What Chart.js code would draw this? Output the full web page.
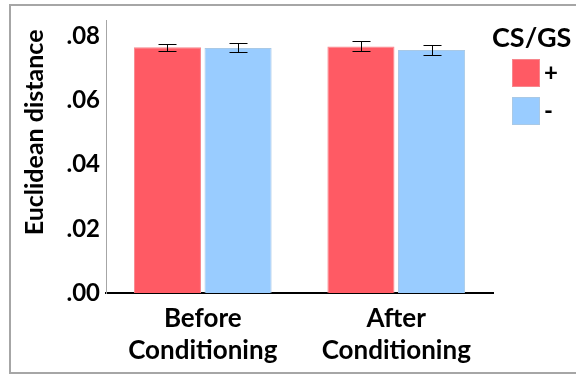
<!DOCTYPE html>
<html>
<head>
<meta charset="utf-8">
<script src="https://cdn.jsdelivr.net/npm/chart.js@4.4.1/dist/chart.umd.min.js"></script>
<style>
  html, body { margin: 0; padding: 0; background: #fff; }
  #wrap { position: relative; width: 576px; height: 376px; overflow: hidden; }
  #frame { position: absolute; left: 9px; top: 4px; width: 620px; height: 366px; border: 2px solid #a6a6a6; pointer-events: none; }
  canvas { position: absolute; left: 0; top: 0; }
</style>
</head>
<body>
<div id="wrap">
  <canvas id="chart" width="576" height="376"></canvas>
  <div id="frame"></div>
</div>
<script>
const conditions = [['Before', 'Conditioning'], ['After', 'Conditioning']];
const groupLabels = ['+', '-'];
const legendTitle = 'CS/GS';
const plusMeans = [0.0766, 0.0769];
const plusErrors = [0.00116, 0.00156];
const minusMeans = [0.0764, 0.0758];
const minusErrors = [0.0014, 0.00165];
const yTicks = [0, 0.02, 0.04, 0.06, 0.08];

const FONT = 'Lato, "Open Sans", sans-serif';
const NB = '\u00A0';

// error bars drawn on top of the bars, positioned through the y scale
const errorBars = {
    id: 'errorBars',
    afterDatasetsDraw(chart) {
        const ctx = chart.ctx;
        const yScale = chart.scales.y;
        ctx.save();
        ctx.strokeStyle = '#000';
        ctx.lineWidth = 1;
        chart.data.datasets.forEach((ds, i) => {
            const meta = chart.getDatasetMeta(i);
            meta.data.forEach((bar, j) => {
                const v = ds.data[j];
                const e = ds.errors[j];
                const yHi = Math.round(yScale.getPixelForValue(v + e)) + 0.5;
                const yLo = Math.round(yScale.getPixelForValue(v - e)) + 0.5;
                const x = Math.round(bar.x) + 0.5;
                const cap = 9;
                ctx.beginPath();
                ctx.moveTo(x, yHi); ctx.lineTo(x, yLo);
                ctx.moveTo(x - cap, yHi); ctx.lineTo(x + cap, yHi);
                ctx.moveTo(x - cap, yLo); ctx.lineTo(x + cap, yLo);
                ctx.stroke();
            });
        });
        ctx.restore();
    }
};

// legend in the right margin: title, then one swatch per dataset
const sideLegend = {
    id: 'sideLegend',
    afterDraw(chart) {
        const ctx = chart.ctx;
        const left = chart.chartArea.right - 1;
        ctx.save();
        ctx.fillStyle = '#000';
        ctx.textBaseline = 'middle';
        ctx.textAlign = 'left';
        ctx.font = 'bold 27px ' + FONT;
        ctx.fillText(legendTitle, left, 38);
        ctx.font = 'bold 24px ' + FONT;
        chart.data.datasets.forEach((ds, i) => {
            const top = 59 + i * 38;
            ctx.fillStyle = ds.backgroundColor;
            ctx.fillRect(left + 20, top, 28, 28);
            ctx.strokeStyle = ds.borderColor;
            ctx.lineWidth = 1;
            ctx.strokeRect(left + 20.5, top + 0.5, 27, 27);
            ctx.fillStyle = '#000';
            ctx.fillText(ds.label, left + 52, top + 14);
        });
        ctx.restore();
    }
};

const ctx = document.getElementById('chart').getContext('2d');
new Chart(ctx, {
    type: 'bar',
    data: {
        labels: conditions,
        datasets: [{
            label: groupLabels[0],
            data: plusMeans,
            errors: plusErrors,
            backgroundColor: '#FF5A64',
            borderColor: '#F7868C',
            borderWidth: 1
        }, {
            label: groupLabels[1],
            data: minusMeans,
            errors: minusErrors,
            backgroundColor: '#99CCFF',
            borderColor: '#A9C9E6',
            borderWidth: 1
        }]
    },
    options: {
        responsive: false,
        animation: false,
        categoryPercentage: 0.73,
        barPercentage: 0.95,
        layout: { padding: { left: 0, top: 10, right: 83, bottom: 0 } },
        scales: {
            x: {
                grid: { display: false, drawTicks: false },
                border: { color: '#000', width: 2 },
                ticks: {
                    color: '#000',
                    padding: 9,
                    font: { family: FONT, size: 26, weight: 'bold', lineHeight: 1.25 }
                },
                afterFit(scale) { scale.height = 83; }
            },
            y: {
                min: 0,
                max: 0.085,
                grid: { display: false, drawTicks: false },
                border: { color: '#a6a6a6', width: 1 },
                afterBuildTicks(scale) { scale.ticks = yTicks.map(v => ({ value: v })); },
                ticks: {
                    color: '#000',
                    padding: 6,
                    font: { family: FONT, size: 24, weight: 'bold' },
                    callback: v => v.toFixed(2).replace(/^0/, '')
                },
                title: {
                    display: true,
                    text: NB.repeat(8) + 'Euclidean distance',
                    color: '#000',
                    padding: { top: 20, bottom: 0 },
                    font: { family: FONT, size: 25, weight: 'bold' }
                },
                afterFit(scale) { scale.width = 106; }
            }
        },
        plugins: {
            legend: { display: false },
            tooltip: { enabled: false }
        }
    },
    plugins: [errorBars, sideLegend]
});
</script>
</body>
</html>
